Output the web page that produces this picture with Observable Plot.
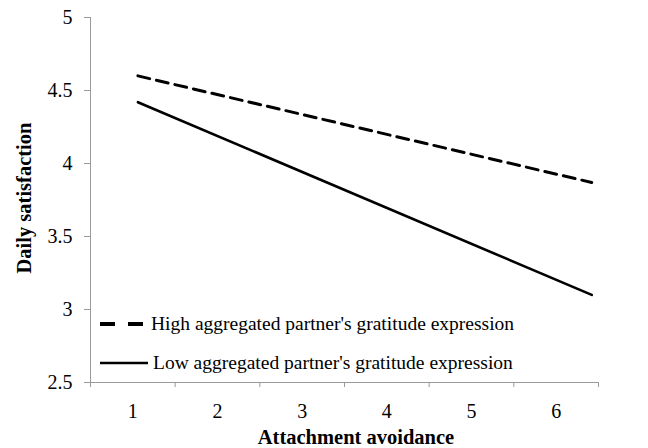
<!DOCTYPE html>
<html>
<head>
<meta charset="utf-8">
<script src="https://cdn.jsdelivr.net/npm/d3@7"></script>
<script src="https://cdn.jsdelivr.net/npm/@observablehq/plot@0.6"></script>
<style>
  html, body { margin: 0; padding: 0; background: #fff; }
  #chart { position: relative; width: 648px; height: 448px; }
  #chart svg g[aria-label$="tick label"] { font-size: 20px; font-family: 'Liberation Serif', 'Times New Roman', serif; }
</style>
</head>
<body>
<div id="chart"></div>
<script>
// Data
const xCategories = [1, 2, 3, 4, 5, 6];
const categoryEdges = [0.5, 1.5, 2.5, 3.5, 4.5, 5.5, 6.5];
const yTicks = [2.5, 3, 3.5, 4, 4.5, 5];
const seriesNames = ["High aggregated partner's gratitude expression", "Low aggregated partner's gratitude expression"];
const lineX = [1.06, 6.42];
const highValues = [4.60, 3.87];
const lowValues = [4.42, 3.10];

const highData = lineX.map((x, i) => ({x, y: highValues[i]}));
const lowData = lineX.map((x, i) => ({x, y: lowValues[i]}));

const axisColor = "#9a9a9a";
const font = "'Liberation Serif', 'Times New Roman', serif";

const plot = Plot.plot({
  width: 648,
  height: 448,
  marginLeft: 90,
  marginRight: 50,
  marginTop: 17,
  marginBottom: 66,
  style: {fontFamily: font, fontSize: "20px", color: "#000", background: "#fff"},
  x: {domain: [0.5, 6.5]},
  y: {domain: [2.5, 5]},
  marks: [
    Plot.ruleX([0.5], {stroke: axisColor, strokeWidth: 1}),
    Plot.ruleY([2.5], {stroke: axisColor, strokeWidth: 1}),
    Plot.axisY({ticks: yTicks, tickSize: 6, tickPadding: 12, stroke: axisColor, tickFormat: d => String(d), label: null}),
    Plot.axisX({ticks: categoryEdges, tickSize: 5, stroke: axisColor, tickFormat: () => "", label: null}),
    Plot.axisX({ticks: xCategories, tickSize: 0, tickPadding: 21, tickFormat: d => String(d), label: null}),
    Plot.line(highData, {x: "x", y: "y", stroke: "#000", strokeWidth: 3, strokeDasharray: "12,7"}),
    Plot.line(lowData, {x: "x", y: "y", stroke: "#000", strokeWidth: 2.6})
  ]
});

document.getElementById("chart").appendChild(plot);

const svg = d3.select(plot);
// Axis titles
svg.append("text")
  .attr("x", 356).attr("y", 444)
  .attr("text-anchor", "middle")
  .attr("font-family", font).attr("font-weight", "bold").attr("font-size", 20.5)
  .text("Attachment avoidance");
svg.append("text")
  .attr("transform", "translate(31,198) rotate(-90)")
  .attr("text-anchor", "middle")
  .attr("font-family", font).attr("font-weight", "bold").attr("font-size", 20.5)
  .text("Daily satisfaction");

// Legend inside plot area
const legendItems = [
  {name: seriesNames[0], dash: "15,13", width: 4, y: 324},
  {name: seriesNames[1], dash: null, width: 2.5, y: 363}
];
legendItems.forEach(item => {
  const l = svg.append("line")
    .attr("x1", 100).attr("x2", item.dash ? 143 : 148)
    .attr("y1", item.y).attr("y2", item.y)
    .attr("stroke", "#000").attr("stroke-width", item.width);
  if (item.dash) l.attr("stroke-dasharray", item.dash);
  svg.append("text")
    .attr("x", item.dash ? 151 : 153).attr("y", item.y + 6)
    .attr("text-anchor", "start")
    .attr("font-family", font).attr("font-size", 19.5)
    .text(item.name);
});
</script>
</body>
</html>
